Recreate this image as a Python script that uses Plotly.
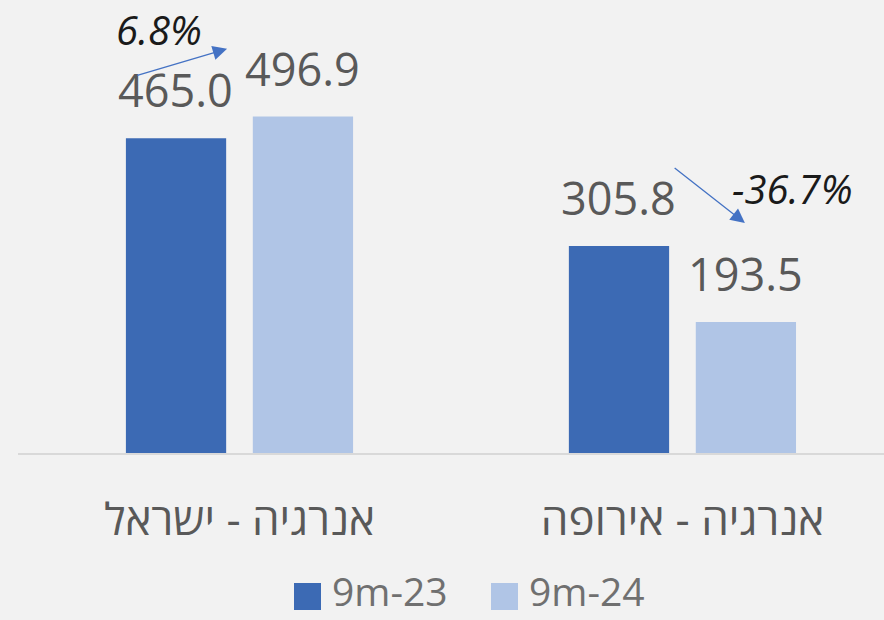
import plotly.graph_objects as go

categories = ["אנרגיה - ישראל", "אנרגיה - אירופה"]
series_names = ["9m-23", "9m-24"]
values_23 = [465.0, 305.8]
values_24 = [496.9, 193.5]
change_labels = ["6.8%", "-36.7%"]
colors = ["#3c6ab4", "#b0c5e6"]

series_values = [values_23, values_24]

fig = go.Figure()
for name, vals, col in zip(series_names, series_values, colors):
    fig.add_trace(go.Bar(x=categories, y=vals, name=name, marker_color=col,
                         marker_line_width=0, showlegend=False, hoverinfo="skip"))

annotations = []
# value labels above bars
offsets = [-63.5, 63.5]
for vals, off in zip(series_values, offsets):
    for i, v in enumerate(vals):
        annotations.append(dict(x=i, y=v, xref="x", yref="y", text=f"{v:.1f}",
                                showarrow=False, xshift=off, yanchor="bottom", yshift=16,
                                font=dict(family="Open Sans", size=45, color="#595959")))

# change labels and arrows
change_pos = [(-0.182, 625), (1.248, 391)]
arrow_pos = [((-0.234, 557), (-0.028, 597)), ((0.979, 422.5), (1.141, 339.7))]
for lab, (cx, cy), ((tx, ty), (hx, hy)) in zip(change_labels, change_pos, arrow_pos):
    annotations.append(dict(x=cx, y=cy, xref="x", yref="y", text=f"<i>{lab}</i>",
                            showarrow=False,
                            font=dict(family="Open Sans", size=40, color="#1a1a1a")))
    annotations.append(dict(x=hx, y=hy, xref="x", yref="y", ax=tx, ay=ty,
                            axref="x", ayref="y", text="", showarrow=True,
                            arrowhead=2, arrowsize=2.2, arrowwidth=1.3,
                            arrowcolor="#4472c4", standoff=0, startstandoff=0))

# manual legend
shapes = []
leg_x = [294, 491]
for name, col, lx in zip(series_names, colors, leg_x):
    shapes.append(dict(type="rect", xref="paper", yref="paper",
                       x0=(lx - 18) / 866, x1=(lx + 27 - 18) / 866,
                       y0=(453 - 610) / 453, y1=(453 - 583) / 453,
                       fillcolor=col, line_width=0))
    annotations.append(dict(x=(lx + 36 - 18) / 866, y=(453 - 619) / 453,
                            xref="paper", yref="paper", text=name, showarrow=False,
                            xanchor="left", yanchor="bottom",
                            font=dict(family="Open Sans", size=39, color="#707070")))

fig.update_layout(
    width=884, height=620,
    margin=dict(l=18, r=0, t=0, b=167),
    paper_bgcolor="#f2f2f2", plot_bgcolor="rgba(0,0,0,0)",
    barmode="group", bargap=0.427, bargroupgap=0.21,
    annotations=annotations, shapes=shapes,
    showlegend=False,
    xaxis=dict(type="category", range=[-0.5, 1.455], showgrid=False, ticks="",
               showline=True, linecolor="#d9d9d9", linewidth=2, zeroline=False,
               tickfont=dict(family="Open Sans", size=44, color="#595959"),
               ticklabelstandoff=27),
    yaxis=dict(range=[0, 669], visible=False, showgrid=False, zeroline=False),
)

fig.write_html("out.html", config={"displayModeBar": False},
               post_script="document.body.style.margin='0';")
